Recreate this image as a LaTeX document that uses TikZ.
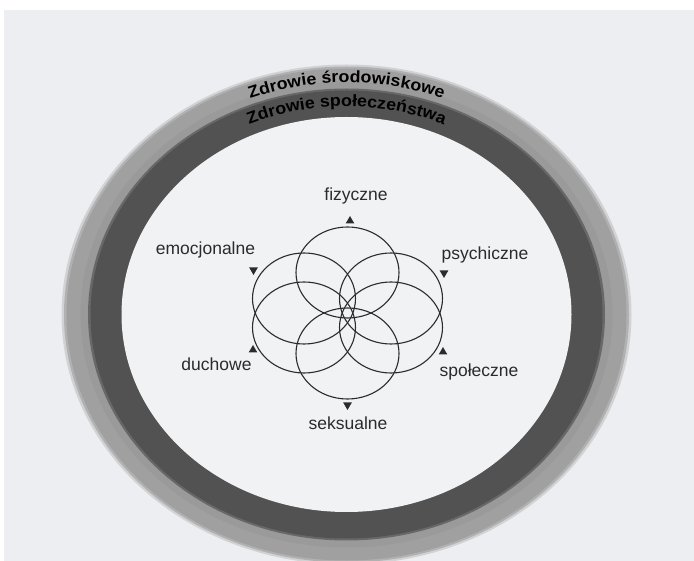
\documentclass[tikz,border=0pt]{standalone}
\usepackage{fontspec}
\setmainfont{Liberation Sans}
\usetikzlibrary{shapes.geometric,decorations.text,calc}
\definecolor{paper}{HTML}{ECEEF1}
\definecolor{bandlight}{HTML}{A0A0A0}
\definecolor{bandlight2}{HTML}{9A9A9A}
\definecolor{bandmid}{HTML}{686868}
\definecolor{banddark}{HTML}{525252}
\definecolor{innerfill}{HTML}{F1F2F4}
\definecolor{ink}{HTML}{2B2B2B}
\begin{document}
\begin{tikzpicture}[x=1pt,y=1pt,
  petal/.style={ellipse, draw=ink, line width=1.1pt, minimum width=103pt, minimum height=91pt, inner sep=0pt},
  lbl/.style={font=\fontsize{17.5}{17.5}\selectfont, text=ink, anchor=base, inner sep=0pt},
  triup/.style={regular polygon, regular polygon sides=3, fill=ink, inner sep=0pt, minimum size=10pt},
  tridown/.style={triup, shape border rotate=180}]
\useasboundingbox (0,0) rectangle (694,-561);
\fill[white] (0,0) rectangle (694,-561);
\fill[paper] (4,-10) rectangle (694,-561);
\coordinate (C) at (346.5,-314.5);
% light band with a soft outer edge
\foreach \rx/\ry/\o in {285/250/0.35,282.5/248/0.65}
  \fill[bandlight, opacity=\o] (C) ellipse[x radius=\rx, y radius=\ry];
\fill[bandlight] (C) ellipse[x radius=280, y radius=246];
\fill[bandlight2] (C) ellipse[x radius=266, y radius=233];
\fill[bandmid] (C) ellipse[x radius=258.5, y radius=226];
\fill[banddark] (C) ellipse[x radius=256, y radius=224];
\fill[innerfill] (C) ellipse[x radius=225, y radius=197.5];
% curved titles
\path[decorate, decoration={text along path, text align=center,
  text={|\fontsize{16.5}{16.5}\selectfont\bfseries\addfontfeature{FakeStretch=1.08}|Zdrowie środowiskowe}}]
  ($(C)+(150:264 and 232)$) arc[start angle=150, end angle=30, x radius=264, y radius=232];
\path[decorate, decoration={text along path, text align=center,
  text={|\fontsize{16.5}{16.5}\selectfont\bfseries\addfontfeature{FakeStretch=1.08}|Zdrowie społeczeństwa}}]
  ($(C)+(150:238 and 208)$) arc[start angle=150, end angle=30, x radius=238, y radius=208];
% petals
\node[petal] (ptop) at (347.5,-272.5) {};
\node[petal] (pbot) at (347.5,-353.5) {};
\node[petal] (pul) at (304,-298.5) {};
\node[petal] (pll) at (304,-327.5) {};
\node[petal] (pur) at (391,-298.5) {};
\node[petal] (plr) at (391,-327.5) {};
% markers
\node[triup] (tfiz) at (350,-221) {};
\node[tridown] (temo) at (253.5,-270) {};
\node[triup] (tduc) at (253,-350) {};
\node[tridown] (tpsy) at (444,-273) {};
\node[triup] (tspo) at (443,-352) {};
\node[tridown] (tsek) at (347.5,-405) {};
% labels
\node[lbl] (lfiz) at (356,-200.5) {fizyczne};
\node[lbl] (lemo) at (205.5,-255) {emocjonalne};
\node[lbl] (lpsy) at (485,-260) {psychiczne};
\node[lbl] (lduc) at (216.5,-371) {duchowe};
\node[lbl] (lspo) at (479,-376.5) {społeczne};
\node[lbl] (lsek) at (348,-429) {seksualne};
\end{tikzpicture}
\end{document}
